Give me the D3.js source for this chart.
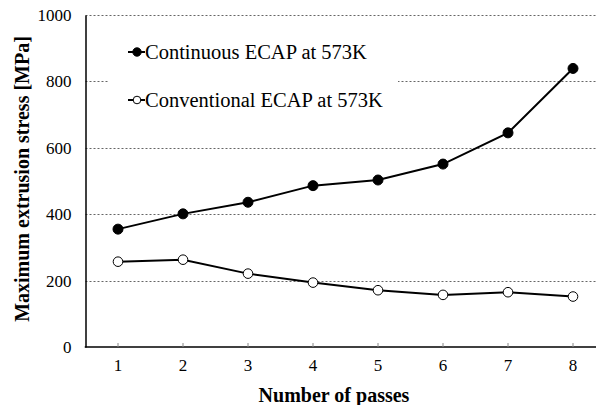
<!DOCTYPE html>
<html>
<head>
<meta charset="utf-8">
<script src="https://cdn.jsdelivr.net/npm/d3@7"></script>
<style>
  html, body { margin: 0; padding: 0; background: #fff; }
  svg { display: block; }
</style>
</head>
<body>
<svg id="chart" width="596" height="405"></svg>
<script>
// Number of ECAP passes
const passes = [1, 2, 3, 4, 5, 6, 7, 8];
// Maximum extrusion stress [MPa]
const continuousStress = [355, 401, 436, 486, 503, 551, 645, 839];
const conventionalStress = [257, 263, 221, 194, 171, 157, 165, 152];
const yTicks = [0, 200, 400, 600, 800, 1000];
const seriesNames = ["Continuous ECAP at 573K", "Conventional ECAP at 573K"];

const svg = d3.select("#chart");
const plotLeft = 85.5, plotBottom = 347, plotTop = 15, plotRight = 605.5;
const serif = '"Liberation Serif"';

const x = d3.scaleBand().domain(passes).range([plotLeft, plotRight]);
const cx = d => x(d) + x.bandwidth() / 2;
const y = d3.scaleLinear().domain([0, 1000]).range([plotBottom, plotTop]);

// horizontal dashed gridlines (including the top edge)
svg.append("g").selectAll("line")
  .data(yTicks.filter(v => v > 0))
  .join("line")
  .attr("x1", plotLeft).attr("x2", 596)
  .attr("y1", d => Math.round(y(d)) + 0.5).attr("y2", d => Math.round(y(d)) + 0.5)
  .attr("stroke", "#666").attr("stroke-width", 1)
  .attr("stroke-dasharray", "2,2");

// legend background hides the gridline behind it
svg.append("rect")
  .attr("x", 108).attr("y", 66).attr("width", 290).attr("height", 22)
  .attr("fill", "#fff");

// y axis: labels only, solid spine
const yAxis = d3.axisLeft(y).tickValues(yTicks).tickFormat(d3.format("d")).tickSize(0).tickPadding(14);
const gy = svg.append("g").attr("transform", `translate(${plotLeft},0)`).call(yAxis);
gy.attr("font-family", null).attr("font-size", null);
gy.select(".domain").attr("stroke", "#000").attr("stroke-width", 1.5);
gy.selectAll("text").style("font-family", serif).style("font-size", "17px").attr("fill", "#000");

// x axis: inner ticks at each pass
const xAxis = d3.axisBottom(x).tickSize(0).tickPadding(12);
const gx = svg.append("g").attr("transform", `translate(0,${plotBottom})`).call(xAxis);
gx.attr("font-family", null).attr("font-size", null);
gx.select(".domain").remove();
gx.selectAll("text").style("font-family", serif).style("font-size", "17px").attr("fill", "#000");
svg.append("line")
  .attr("x1", plotLeft - 0.75).attr("x2", 596).attr("y1", plotBottom).attr("y2", plotBottom)
  .attr("stroke", "#000").attr("stroke-width", 1.5);
svg.append("g").selectAll("line")
  .data(passes).join("line")
  .attr("x1", d => cx(d)).attr("x2", d => cx(d))
  .attr("y1", plotBottom - 4).attr("y2", plotBottom)
  .attr("stroke", "#888").attr("stroke-width", 1);

// series lines and markers
const line = d3.line().x((d, i) => cx(passes[i])).y(d => y(d));
function drawSeries(values, fill) {
  svg.append("path").datum(values)
    .attr("d", line).attr("fill", "none")
    .attr("stroke", "#000").attr("stroke-width", 2);
  svg.append("g").selectAll("circle")
    .data(values).join("circle")
    .attr("cx", (d, i) => cx(passes[i])).attr("cy", d => y(d))
    .attr("r", fill === "#000" ? 5 : 4.8)
    .attr("fill", fill).attr("stroke", "#000").attr("stroke-width", 1);
}
drawSeries(continuousStress, "#000");
drawSeries(conventionalStress, "#fff");

// legend
const legend = [
  { name: seriesNames[0], fill: "#000", yPos: 52 },
  { name: seriesNames[1], fill: "#fff", yPos: 100 }
];
legend.forEach(it => {
  svg.append("line")
    .attr("x1", 128).attr("x2", 145).attr("y1", it.yPos).attr("y2", it.yPos)
    .attr("stroke", "#000").attr("stroke-width", 2);
  svg.append("circle")
    .attr("cx", 137).attr("cy", it.yPos).attr("r", it.fill === "#000" ? 4.2 : 3.8)
    .attr("fill", it.fill).attr("stroke", "#000").attr("stroke-width", 1);
  svg.append("text")
    .attr("x", 145).attr("y", it.yPos).attr("dy", "0.35em")
    .style("font-family", serif).style("font-size", "20.5px")
    .text(it.name);
});

// axis titles
svg.append("text")
  .attr("x", 334).attr("y", 402)
  .attr("text-anchor", "middle")
  .style("font-family", serif).style("font-size", "20px").style("font-weight", "bold")
  .text("Number of passes");
svg.append("text")
  .attr("transform", "translate(29,179) rotate(-90)")
  .attr("text-anchor", "middle")
  .style("font-family", serif).style("font-size", "20px").style("font-weight", "bold")
  .text("Maximum extrusion stress [MPa]");
</script>
</body>
</html>
